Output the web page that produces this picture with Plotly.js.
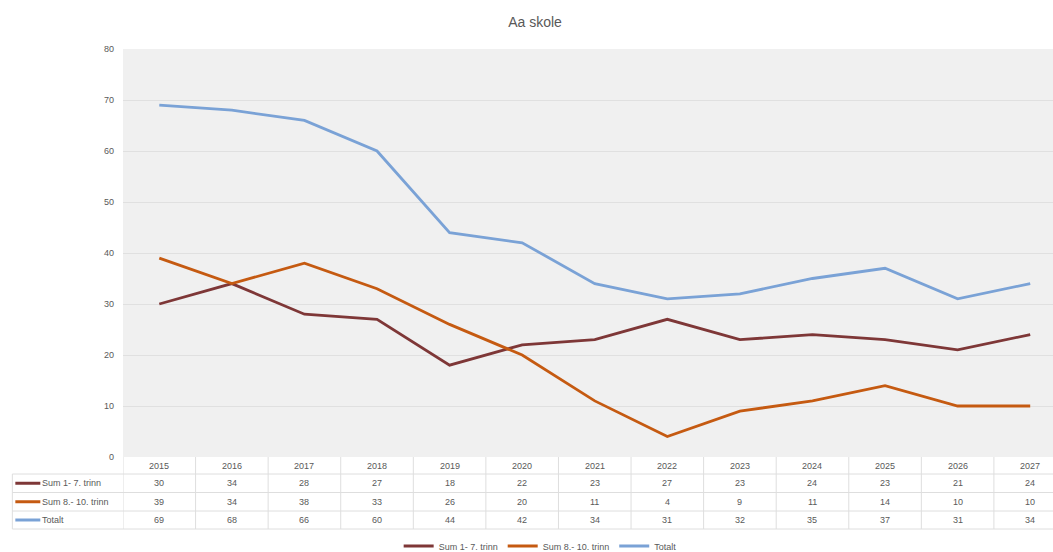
<!DOCTYPE html>
<html><head><meta charset="utf-8">
<script src="https://cdn.plot.ly/plotly-3.0.1.min.js"></script>
<style>html,body{margin:0;padding:0;background:#fff}#chart{width:1053px;height:552px}</style>
</head><body><div id="chart"></div>
<script>
const categories = ['2015','2016','2017','2018','2019','2020','2021','2022','2023','2024','2025','2026','2027'];
const seriesNames = ['Sum 1- 7. trinn','Sum 8.- 10. trinn','Totalt'];
const sum1to7 = [30,34,28,27,18,22,23,27,23,24,23,21,24];
const sum8to10 = [39,34,38,33,26,20,11,4,9,11,14,10,10];
const totalt = [69,68,66,60,44,42,34,31,32,35,37,31,34];
const colors = ['#7e3737','#c55a11','#7aa2d6'];
const yTicks = [0,10,20,30,40,50,60,70,80];

const W=1053,H=552, L=122.7, R=0, T=49, B=95;
const plotW = W-L-R, plotH = H-T-B;
const py = p => (H-B - p)/plotH;      // pixel y -> paper y
const px = p => (p - L)/plotW;        // pixel x -> paper x
const font = 'Liberation Sans, Arial, sans-serif';
const txt = '#595959';

const series = [sum1to7, sum8to10, totalt];
const traces = series.map((s,i)=>({
  type:'scatter', mode:'lines', x:categories.map((c,j)=>j), y:s, name:seriesNames[i],
  line:{color:colors[i], width:2.8}, hoverinfo:'skip'
}));

const shapes = [];
const annotations = [];
const gridC = '#dedede';
const rowEdges = [457,474,492.5,511,529];
for (let i=0;i<=categories.length;i++){
  shapes.push({type:'line', xref:'x', yref:'paper', x0:i-0.5, x1:i-0.5, y0:py(457), y1:py(529), line:{color:gridC,width:1}});
}
for (let k=1;k<rowEdges.length;k++){
  shapes.push({type:'line', xref:'paper', yref:'paper', x0:px(12), x1:1.02, y0:py(rowEdges[k]), y1:py(rowEdges[k]), line:{color:gridC,width:1}});
}
shapes.push({type:'line', xref:'paper', yref:'paper', x0:px(12), x1:px(12), y0:py(474), y1:py(529), line:{color:gridC,width:1}});
categories.forEach((c,j)=>annotations.push({xref:'x', yref:'paper', x:j, y:py(466), text:c, showarrow:false, font:{family:font,size:9,color:txt}, xanchor:'center', yanchor:'middle'}));
series.forEach((s,i)=>{
  const yc = py((rowEdges[i+1]+rowEdges[i+2])/2);
  s.forEach((v,j)=>annotations.push({xref:'x', yref:'paper', x:j, y:yc, text:String(v), showarrow:false, font:{family:font,size:9,color:txt}, xanchor:'center', yanchor:'middle'}));
  shapes.push({type:'line', xref:'paper', yref:'paper', x0:px(15), x1:px(40), y0:yc, y1:yc, line:{color:colors[i],width:3}});
  annotations.push({xref:'paper', yref:'paper', x:px(40), y:yc, text:seriesNames[i], showarrow:false, font:{family:font,size:9,color:txt}, xanchor:'left', yanchor:'middle'});
});

const layout = {
  width:W, height:H, paper_bgcolor:'#ffffff', plot_bgcolor:'#f0f0f0',
  margin:{l:L, r:R, t:T, b:B, pad:0, autoexpand:false},
  title:{text:'Aa skole', font:{family:font,size:14,color:txt}, xref:'container', x:535/W, xanchor:'center', yref:'container', y:1-22/H, yanchor:'middle', automargin:false},
  xaxis:{range:[-0.5, -0.5 + plotW/72.6], showticklabels:false, showgrid:false, zeroline:false, showline:false, ticks:'', fixedrange:true, automargin:false},
  yaxis:{range:[0,80], tickvals:yTicks, ticktext:yTicks.map(String), showgrid:true, gridcolor:'#e0e0e0', gridwidth:1, zeroline:false, showline:false, ticks:'', ticklabelstandoff:8, tickfont:{family:font,size:9,color:txt}, automargin:false},
  showlegend:true,
  legend:{orientation:'h', x:px(540), xanchor:'center', y:py(546), yanchor:'middle', font:{family:font,size:9,color:txt}, itemwidth:30, bgcolor:'rgba(0,0,0,0)', traceorder:'normal'},
  shapes:shapes, annotations:annotations
};
Plotly.newPlot('chart', traces, layout, {displayModeBar:false, staticPlot:true});
</script></body></html>
